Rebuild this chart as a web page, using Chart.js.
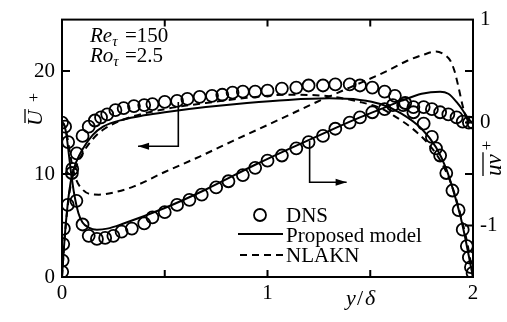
<!DOCTYPE html>
<html>
<head>
<meta charset="utf-8">
<script src="https://cdn.jsdelivr.net/npm/chart.js@4.4.1/dist/chart.umd.min.js"></script>
<style>
html, body { margin: 0; padding: 0; background: #fff; }
canvas { display: block; }
</style>
</head>
<body>
<canvas id="chart" width="507" height="322"></canvas>
<script>
// DNS, Re_tau=150, Ro_tau=2.5
const dnsUx = [0.001, 0.003, 0.006, 0.009, 0.028, 0.048, 0.072, 0.1, 0.13, 0.16, 0.19, 0.22, 0.26, 0.30, 0.35, 0.40, 0.44, 0.50, 0.56, 0.61, 0.67, 0.73, 0.78, 0.83, 0.88, 0.94, 1.00, 1.07, 1.14, 1.20, 1.27, 1.33, 1.40, 1.45, 1.51, 1.57, 1.62, 1.67, 1.71, 1.76, 1.80, 1.82, 1.84, 1.87, 1.90, 1.93, 1.95, 1.97, 1.98, 1.99, 1.998];
const dnsU  = [0.5, 1.6, 3.2, 4.7, 7.0, 10.1, 12.0, 13.7, 14.6, 15.2, 15.5, 15.8, 16.2, 16.4, 16.6, 16.7, 16.8, 17.0, 17.1, 17.3, 17.5, 17.6, 17.7, 17.9, 18.0, 18.0, 18.1, 18.3, 18.4, 18.6, 18.6, 18.7, 18.7, 18.6, 18.4, 18.0, 17.6, 16.9, 16.0, 14.9, 13.6, 12.5, 11.8, 10.1, 8.4, 6.5, 4.6, 3.0, 1.9, 0.95, 0.4];
const dnsUVx = [0.0, 0.015, 0.03, 0.05, 0.07, 0.1, 0.13, 0.17, 0.21, 0.25, 0.29, 0.34, 0.40, 0.44, 0.50, 0.56, 0.62, 0.68, 0.75, 0.81, 0.88, 0.94, 1.0, 1.07, 1.14, 1.2, 1.27, 1.33, 1.40, 1.45, 1.51, 1.57, 1.61, 1.66, 1.71, 1.76, 1.80, 1.84, 1.88, 1.92, 1.95, 1.98, 2.0];
const dnsUV  = [0, -0.04, -0.19, -0.45, -0.76, -0.99, -1.10, -1.13, -1.12, -1.10, -1.06, -1.03, -0.98, -0.92, -0.87, -0.80, -0.75, -0.70, -0.63, -0.57, -0.51, -0.44, -0.37, -0.32, -0.25, -0.19, -0.13, -0.06, 0.0, 0.05, 0.10, 0.13, 0.17, 0.17, 0.15, 0.15, 0.13, 0.10, 0.08, 0.05, 0.01, 0.0, 0.0];

// Proposed model
const modelUx = [0, 0.005, 0.01, 0.02, 0.035, 0.05, 0.07, 0.1, 0.15, 0.2, 0.3, 0.4, 0.5, 0.7, 0.9, 1.1, 1.3, 1.45, 1.55, 1.65, 1.75, 1.82, 1.87, 1.91, 1.94, 1.96, 1.98, 2];
const modelU  = [0, 1.5, 3, 5.5, 8.3, 10, 11.2, 12.4, 13.8, 14.6, 15.3, 15.7, 16.0, 16.5, 16.9, 17.2, 17.35, 17.2, 16.8, 15.9, 14.4, 12.6, 10.5, 8, 5.8, 4, 2, 0];
const modelUVx = [0, 0.01, 0.02, 0.03, 0.045, 0.06, 0.08, 0.1, 0.13, 0.17, 0.22, 0.3, 0.5, 0.7, 0.94, 1.1, 1.3, 1.45, 1.55, 1.65, 1.75, 1.84, 1.88, 1.92, 1.95, 1.97, 1.99, 2];
const modelUV  = [0, -0.02, -0.1, -0.25, -0.5, -0.7, -0.88, -0.97, -1.02, -1.04, -1.03, -0.98, -0.83, -0.65, -0.41, -0.26, -0.08, 0.05, 0.13, 0.21, 0.28, 0.30, 0.28, 0.2, 0.12, 0.06, 0.01, 0];

// NLAKN
const nlaknUx = [0, 0.005, 0.01, 0.02, 0.035, 0.05, 0.07, 0.1, 0.15, 0.2, 0.3, 0.5, 0.7, 0.9, 1.1, 1.3, 1.45, 1.55, 1.62, 1.7, 1.78, 1.85, 1.9, 1.94, 1.97, 1.99, 2];
const nlaknU  = [0, 1.5, 3, 5.4, 8, 9.6, 10.8, 12.0, 13.4, 14.3, 15.3, 16.3, 16.9, 17.4, 17.7, 17.55, 17.0, 16.4, 15.6, 14.5, 13, 11, 8.7, 6, 3.5, 1.3, 0];
const nlaknUVx = [0, 0.01, 0.02, 0.035, 0.05, 0.07, 0.1, 0.13, 0.18, 0.25, 0.35, 0.5, 0.67, 0.83, 0.95, 1.08, 1.24, 1.4, 1.57, 1.68, 1.76, 1.82, 1.86, 1.89, 1.91, 1.93, 1.95, 1.965, 1.98, 2];
const nlaknUV  = [0, -0.02, -0.08, -0.25, -0.42, -0.56, -0.65, -0.69, -0.70, -0.68, -0.62, -0.48, -0.33, -0.18, -0.07, 0.05, 0.2, 0.34, 0.49, 0.6, 0.66, 0.69, 0.66, 0.6, 0.5, 0.34, 0.16, 0.06, 0.01, 0];

const xTicks = [0, 1, 2];
const uTicks = [0, 10, 20];
const uvTicks = [-1, 0, 1];
const xMarks = [0.5, 1, 1.5];
const uMarks = [10, 20];
const uvMarks = [-1, -0.5, 0, 0.5];

const SERIF = '"Liberation Serif", "DejaVu Serif", serif';
const pts = (xs, ys) => xs.map((x, i) => ({ x, y: ys[i] }));

function arrow(ctx, pts) {
  ctx.beginPath();
  ctx.moveTo(pts[0][0], pts[0][1]);
  for (let i = 1; i < pts.length; i++) ctx.lineTo(pts[i][0], pts[i][1]);
  ctx.stroke();
  const [x1, y1] = pts[pts.length - 2], [x2, y2] = pts[pts.length - 1];
  const a = Math.atan2(y2 - y1, x2 - x1);
  ctx.beginPath();
  ctx.moveTo(x2, y2);
  ctx.lineTo(x2 - 11 * Math.cos(a) + 3.5 * Math.sin(a), y2 - 11 * Math.sin(a) - 3.5 * Math.cos(a));
  ctx.lineTo(x2 - 11 * Math.cos(a) - 3.5 * Math.sin(a), y2 - 11 * Math.sin(a) + 3.5 * Math.cos(a));
  ctx.closePath();
  ctx.fill();
}

const decor = {
  id: 'decor',
  afterDraw(chart) {
    const { ctx, chartArea: a, scales } = chart;
    const sx = scales.x, su = scales.y, sv = scales.y1;
    ctx.save();
    ctx.strokeStyle = '#000';
    ctx.fillStyle = '#000';
    ctx.lineWidth = 2;
    ctx.strokeRect(a.left, a.top, a.right - a.left, a.bottom - a.top);

    // inward tick marks
    ctx.beginPath();
    xMarks.forEach(v => {
      const x = sx.getPixelForValue(v);
      ctx.moveTo(x, a.bottom); ctx.lineTo(x, a.bottom - 7);
      ctx.moveTo(x, a.top); ctx.lineTo(x, a.top + 7);
    });
    uMarks.forEach(v => {
      const y = su.getPixelForValue(v);
      ctx.moveTo(a.left, y); ctx.lineTo(a.left + 8, y);
    });
    uvMarks.forEach(v => {
      const y = sv.getPixelForValue(v);
      ctx.moveTo(a.right, y); ctx.lineTo(a.right - 8, y);
    });
    ctx.stroke();

    // arrows pointing to the axis of each curve
    ctx.lineWidth = 1.6;
    arrow(ctx, [[sx.getPixelForValue(0.566), su.getPixelForValue(17.0)],
                [sx.getPixelForValue(0.566), su.getPixelForValue(12.7)],
                [sx.getPixelForValue(0.37), su.getPixelForValue(12.7)]]);
    arrow(ctx, [[sx.getPixelForValue(1.205), sv.getPixelForValue(-0.18)],
                [sx.getPixelForValue(1.205), sv.getPixelForValue(-0.58)],
                [sx.getPixelForValue(1.385), sv.getPixelForValue(-0.58)]]);

    // parameters
    ctx.textBaseline = 'alphabetic';
    ctx.textAlign = 'left';
    [['Re', '=150', 42], ['Ro', '=2.5', 62]].forEach(([s, v, y]) => {
      ctx.font = `italic 21px ${SERIF}`;
      ctx.fillText(s, 90, y);
      const w = ctx.measureText(s).width;
      ctx.font = `italic 15px ${SERIF}`;
      ctx.fillText('τ', 90 + w, y + 4);
      ctx.font = `21px ${SERIF}`;
      ctx.fillText(v, 125, y);
    });

    // x title
    ctx.font = `italic 22px ${SERIF}`;
    ctx.fillText('y', 346, 305);
    ctx.font = `22px ${SERIF}`;
    ctx.fillText('/', 357, 305);
    ctx.font = `italic 22px ${SERIF}`;
    ctx.fillText('δ', 365, 305);

    // left title  U+ with bar
    ctx.save();
    ctx.translate(42, 126);
    ctx.rotate(-Math.PI / 2);
    ctx.font = `italic 22px ${SERIF}`;
    ctx.fillText('U', 0, 0);
    const uw = ctx.measureText('U').width;
    ctx.lineWidth = 1.3;
    ctx.beginPath(); ctx.moveTo(3, -17); ctx.lineTo(uw + 1, -17); ctx.stroke();
    ctx.font = `16px ${SERIF}`;
    ctx.fillText('+', uw + 8, -3);
    ctx.restore();

    // right title  uv+ with bar
    ctx.save();
    ctx.translate(501, 176);
    ctx.rotate(-Math.PI / 2);
    ctx.font = `italic 23px ${SERIF}`;
    ctx.fillText('uv', 0, 0);
    const vw = ctx.measureText('uv').width;
    ctx.lineWidth = 1.3;
    ctx.beginPath(); ctx.moveTo(0, -18); ctx.lineTo(vw + 2, -18); ctx.stroke();
    ctx.font = `17px ${SERIF}`;
    ctx.fillText('+', vw + 4, -9);
    ctx.restore();

    // legend
    ctx.font = `21px ${SERIF}`;
    ctx.lineWidth = 1.8;
    ctx.beginPath(); ctx.arc(260, 215, 6, 0, Math.PI * 2); ctx.stroke();
    ctx.fillText('DNS', 286, 222);
    ctx.lineWidth = 2;
    ctx.beginPath(); ctx.moveTo(238, 234); ctx.lineTo(283, 234); ctx.stroke();
    ctx.fillText('Proposed model', 286, 242);
    ctx.setLineDash([7, 5]);
    ctx.beginPath(); ctx.moveTo(240, 255); ctx.lineTo(283, 255); ctx.stroke();
    ctx.setLineDash([]);
    ctx.fillText('NLAKN', 286, 262);
    ctx.restore();
  }
};

const circleSet = (data, axis) => ({
  data, yAxisID: axis, showLine: false,
  pointStyle: 'circle', pointRadius: 6, pointBorderWidth: 1.8,
  pointBorderColor: '#000', pointBackgroundColor: 'rgba(0,0,0,0)'
});
const lineSet = (data, axis, dash) => ({
  data, yAxisID: axis, showLine: true, pointRadius: 0,
  borderColor: '#000', borderWidth: 2, borderDash: dash,
  cubicInterpolationMode: 'monotone', fill: false
});

const axisFont = { family: SERIF, size: 21 };

new Chart(document.getElementById('chart'), {
  type: 'scatter',
  data: {
    datasets: [
      circleSet(pts(dnsUx, dnsU), 'y'),
      circleSet(pts(dnsUVx, dnsUV), 'y1'),
      lineSet(pts(modelUx, modelU), 'y', []),
      lineSet(pts(modelUVx, modelUV), 'y1', []),
      lineSet(pts(nlaknUx, nlaknU), 'y', [7, 5]),
      lineSet(pts(nlaknUVx, nlaknUV), 'y1', [7, 5])
    ]
  },
  options: {
    responsive: false,
    animation: false,
    devicePixelRatio: 1,
    layout: { padding: { top: 13, left: 0, right: 0, bottom: 0 } },
    plugins: { legend: { display: false }, tooltip: { enabled: false } },
    scales: {
      x: {
        type: 'linear', position: 'bottom', min: 0, max: 2,
        grid: { display: false, drawTicks: false }, border: { display: false },
        ticks: { font: axisFont, color: '#000', padding: 4, maxRotation: 0 },
        afterBuildTicks: s => { s.ticks = xTicks.map(v => ({ value: v })); },
        afterFit: s => { s.height = 45; }
      },
      y: {
        type: 'linear', position: 'left', min: 0, max: 25,
        grid: { display: false, drawTicks: false }, border: { display: false },
        ticks: { font: axisFont, color: '#000', padding: 7 },
        afterBuildTicks: s => { s.ticks = uTicks.map(v => ({ value: v })); },
        afterFit: s => { s.width = 62; }
      },
      y1: {
        type: 'linear', position: 'right', min: -1.5, max: 1,
        grid: { display: false, drawTicks: false }, border: { display: false },
        ticks: { font: axisFont, color: '#000', padding: 7 },
        afterBuildTicks: s => { s.ticks = uvTicks.map(v => ({ value: v })); },
        afterFit: s => { s.width = 34; }
      }
    }
  },
  plugins: [decor]
});
</script>
</body>
</html>
